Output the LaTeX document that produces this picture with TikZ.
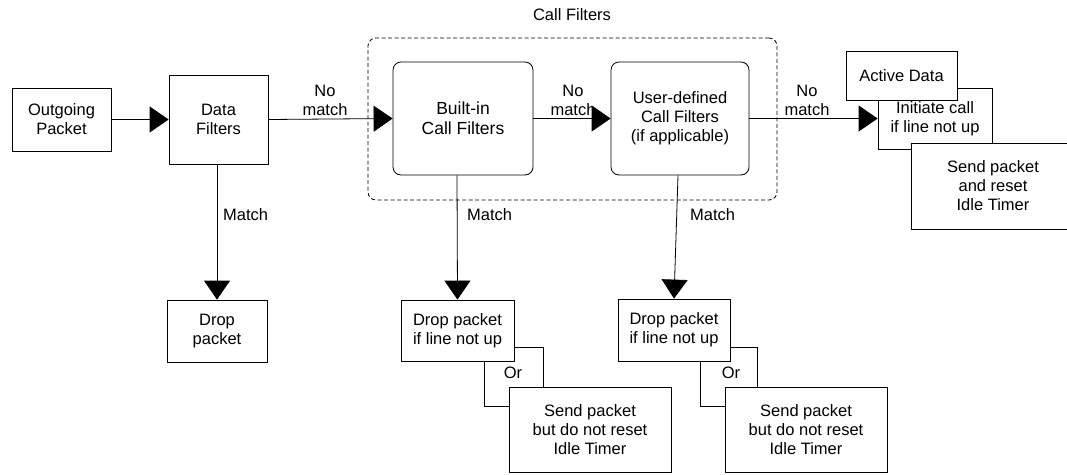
\documentclass[tikz,border=0pt]{standalone}
\usepackage{fontspec}
\setmainfont{Liberation Sans}
\usetikzlibrary{arrows.meta}
\begin{document}
\begin{tikzpicture}[x=1pt,y=-1pt,
  txt/.style={font=\fontsize{16.5}{19}\selectfont},
  box/.style={txt,draw,line width=0.8pt,fill=white,align=center,inner sep=0pt},
  rbox/.style={box,rounded corners=8pt},
  lbl/.style={txt,inner sep=0pt,align=center},
  conn/.style={line width=0.8pt},
  arr/.style={conn,-{Triangle[length=19pt,width=26pt]}}]
\useasboundingbox (0,0) rectangle (1067,474);
\clip (0,0) rectangle (1067,474);

% group
\node[draw,dash pattern=on 4pt off 2.5pt,line width=0.8pt,rounded corners=8pt,minimum width=409pt,minimum height=162pt,inner sep=0pt] (cf) at (572.5,119) {};
\node[lbl] (cftitle) at (572,15) {Call Filters};

% main nodes
\node[box,minimum width=99pt,minimum height=63pt] (op) at (61.5,119.5) {Outgoing\\Packet};
\node[box,minimum width=99pt,minimum height=89pt] (df) at (218.5,119.5) {Data\\Filters};
\node[box,minimum width=100pt,minimum height=62pt] (dp) at (217,331) {Drop\\packet};
\node[rbox,minimum width=140pt,minimum height=113pt,font=\fontsize{17.5}{20}\selectfont] (bi) at (463,118.5) {Built-in\\Call Filters};
\node[rbox,minimum width=138pt,minimum height=113pt] (ud) at (680,118.5) {User-defined\\Call Filters\\(if applicable)};

\node[box,minimum width=113pt,minimum height=61pt] (dl) at (457.5,330.5) {Drop packet\\if line not up};
\node[box,minimum width=162pt,minimum height=85pt] (sl) at (590,429.5) {Send packet\\but do not reset\\Idle Timer};
\node[box,minimum width=112pt,minimum height=62pt] (dr) at (674,330) {Drop packet\\if line not up};
\node[box,minimum width=162pt,minimum height=85pt] (sr) at (806,429.5) {Send packet\\but do not reset\\Idle Timer};

\node[box,minimum width=114pt,minimum height=61pt] (ic) at (935,118.5) {Initiate call\\if line not up};
\node[box,minimum width=111pt,minimum height=49pt] (ad) at (901.5,75.5) {Active Data};
\node[box,minimum width=164pt,minimum height=86pt] (sp) at (993,186) {Send packet\\and reset\\Idle Timer};

% horizontal flow
\draw[arr] (op.east) -- (df.west);
\draw[arr] (df.east) -- (bi.west);
\draw[arr] (bi.east) -- (ud.west);
\draw[arr] (ud.east) -- (ic.west);
\node[lbl] (nm1) at (325,100) {No\\match};
\node[lbl] (nm2) at (573,100) {No\\match};
\node[lbl] (nm3) at (807,100) {No\\match};

% vertical flow
\draw[arr] (dp.north |- df.south) -- (dp.north);
\draw[arr] ([xshift=-6pt]bi.south) -- (dl.north);
\draw[arr] ([xshift=-2pt]ud.south) -- (dr.north);
\node[lbl,anchor=west] (m1) at (223,215) {Match};
\node[lbl,anchor=west] (m2) at (467,215) {Match};
\node[lbl,anchor=west] (m3) at (690,215) {Match};

% Or connectors
\draw[conn] ([yshift=-16.5pt]dl.east) -| ([xshift=-47pt]sl.north);
\draw[conn] ([xshift=26.5pt]dl.south) |- ([yshift=23.5pt]sl.west);
\draw[conn] ([yshift=-17pt]dr.east) -| ([xshift=-49pt]sr.north);
\draw[conn] ([xshift=26pt]dr.south) |- ([yshift=23.5pt]sr.west);
\node[lbl] (or1) at (513,373) {Or};
\node[lbl] (or2) at (731,373) {Or};
\end{tikzpicture}
\end{document}
